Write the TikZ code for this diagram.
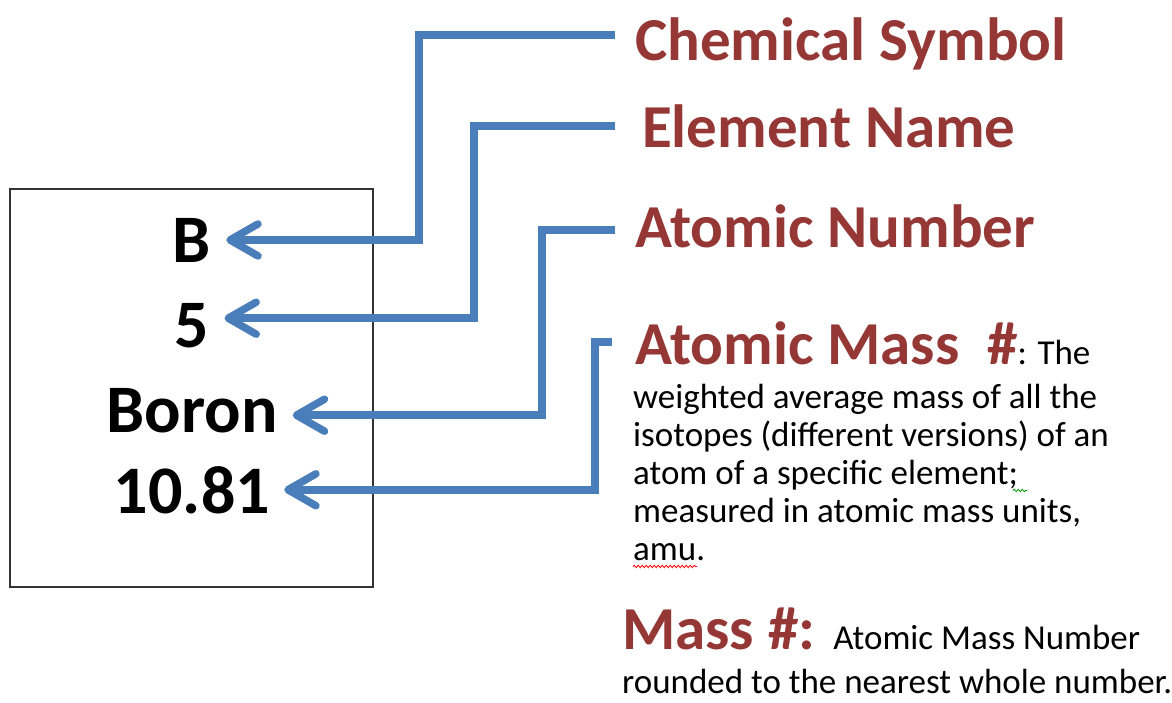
\documentclass[tikz,border=0pt]{standalone}
\usepackage{fontspec}
\setmainfont{Carlito}
\usetikzlibrary{arrows.meta,positioning,decorations.pathmorphing}
\definecolor{ptrblue}{HTML}{4A7EBB}
\definecolor{lblred}{HTML}{953735}
\tikzset{
  cell/.style={
    rectangle, draw=black!80, line width=1.5pt,
    minimum width=363pt, minimum height=398pt, inner sep=0pt
  },
  entry/.style={font=\fontsize{68}{68}\selectfont\bfseries, inner sep=0pt, anchor=base},
  head/.style={font=\fontsize{61}{61}\selectfont\bfseries, text=lblred, inner sep=0pt, anchor=base west},
  note/.style={font=\fontsize{35}{38}\selectfont, inner sep=0pt, anchor=base west, align=left},
  ptr/.style={ptrblue, line width=7.5pt, -{Straight Barb[length=28pt,width=32pt,round]}},
  squig/.style={line width=0.8pt, decorate, decoration={snake, amplitude=1.2pt, segment length=4pt}}
}
\newcommand{\plain}[1]{\textcolor{black}{\fontsize{35}{38}\selectfont\mdseries #1}}

\begin{document}
\begin{tikzpicture}[x=1pt, y=-1pt]
\useasboundingbox (0,0) rectangle (1172,702);

% Element cell
\node[cell] (cell) at (191.5,388) {};
\node[entry] (symB)  at (192,262) {B};
\node[entry] (numZ)  at (192,347) {5};
\node[entry] (nameB) at (192,432) {Boron};
\node[entry] (massB) at (192,513) {10.81};

% Labels
\node[head] (lsym)  at (635,60)  {Chemical Symbol};
\node[head] (lname) at (642,147) {Element Name};
\node[head] (lnum)  at (635,247) {Atomic Number};
\node[head] (lmass) at (635,364) {Atomic Mass\ \ \#\plain{: The}};
% base of a multi-line node sits on its last line
\node[note] (ldef)  at (633,560) {weighted average mass of all the\\isotopes (different versions) of an\\atom of a specific element;\\measured in atomic mass units,\\amu.};
\node[head] (lmassno) at (622,649) {Mass \#:\hspace{18pt}\plain{Atomic Mass Number}};
\node[note] (lround)  at (622,693) {rounded to the nearest whole number.};

% Pointers
\draw[ptr] ([xshift=-20pt,yshift=25pt]lsym.base west)  -- ++(-196,0) |- ([xshift=15pt]symB.east);
\draw[ptr] ([xshift=-27pt,yshift=21pt]lname.base west) -- ++(-141,0) |- ([xshift=15pt,yshift=7pt]numZ.east);
\draw[ptr] ([xshift=-20pt,yshift=17pt]lnum.base west)  -- ++(-73,0)  |- ([xshift=15pt,yshift=-5pt]nameB.east);
\draw[ptr] ([xshift=-23pt,yshift=22pt]lmass.base west) -- ++(-17,0)  |- ([xshift=14pt]massB.east);

% Spelling marks
\draw[squig, red] ([yshift=-6pt]ldef.south west) -- ++(64,0);
\draw[squig, green!60!black] ([xshift=380pt,yshift=70pt]ldef.south west) -- ++(14,0);
\end{tikzpicture}
\end{document}
